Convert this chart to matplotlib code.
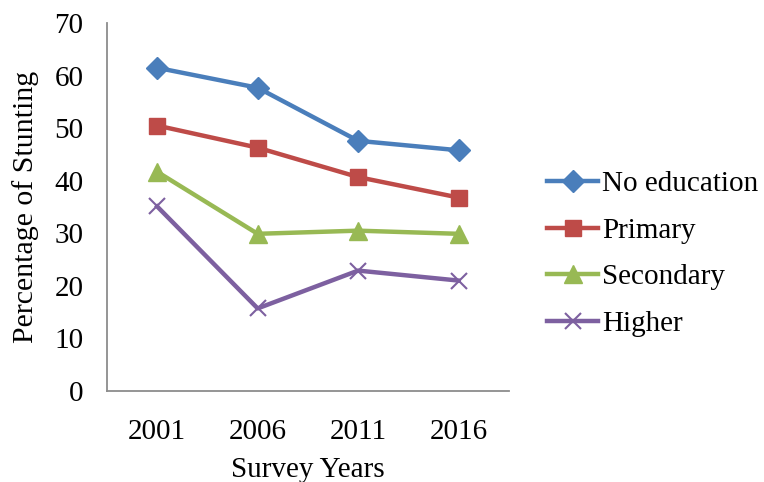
import matplotlib
matplotlib.use('Agg')
import matplotlib.pyplot as plt

# stunting by mother's education level
years = ['2001', '2006', '2011', '2016']
no_education = [61.5, 57.7, 47.6, 45.8]
primary = [50.5, 46.3, 40.7, 36.8]
secondary = [41.7, 29.9, 30.5, 29.9]
higher = [35.1, 15.7, 22.9, 21.0]

plt.rcParams['font.family'] = ['Liberation Serif', 'DejaVu Serif']

fig = plt.figure(figsize=(7.64, 4.82), dpi=100)
ax = fig.add_axes([0.140, 0.189, 0.526, 0.763])

x = range(len(years))
ax.plot(x, no_education, color='#4A7EBB', lw=3.2, marker='D', ms=11, label='No education')
ax.plot(x, primary, color='#BE4B48', lw=3.2, marker='s', ms=12, label='Primary')
ax.plot(x, secondary, color='#98B954', lw=3.2, marker='^', ms=13, label='Secondary')
ax.plot(x, higher, color='#7D60A0', lw=3.2, marker='x', ms=12, mew=1.5, label='Higher')

ax.set_xlim(-0.5, len(years) - 0.5)
ax.set_ylim(0, 70)
ax.set_yticks(range(0, 71, 10))
ax.set_xticks(list(x))
ax.set_xticklabels(years)
ax.tick_params(length=0, labelsize=21)
ax.tick_params(axis='y', pad=17)
ax.tick_params(axis='x', pad=20)

for side in ['top', 'right']:
    ax.spines[side].set_visible(False)
for side in ['left', 'bottom']:
    ax.spines[side].set_color('#8c8c8c')
    ax.spines[side].set_linewidth(1.3)

ax.set_xlabel('Survey Years', fontsize=21, labelpad=9)
ax.set_ylabel('Percentage of Stunting', fontsize=21.5, labelpad=11)

ax.legend(loc='center left', bbox_to_anchor=(0.716, 0.473), bbox_transform=fig.transFigure,
          frameon=False, borderpad=0, borderaxespad=0, fontsize=21,
          handlelength=1.75, handletextpad=0.14, labelspacing=0.69)

fig.savefig('out.png', dpi=100)
